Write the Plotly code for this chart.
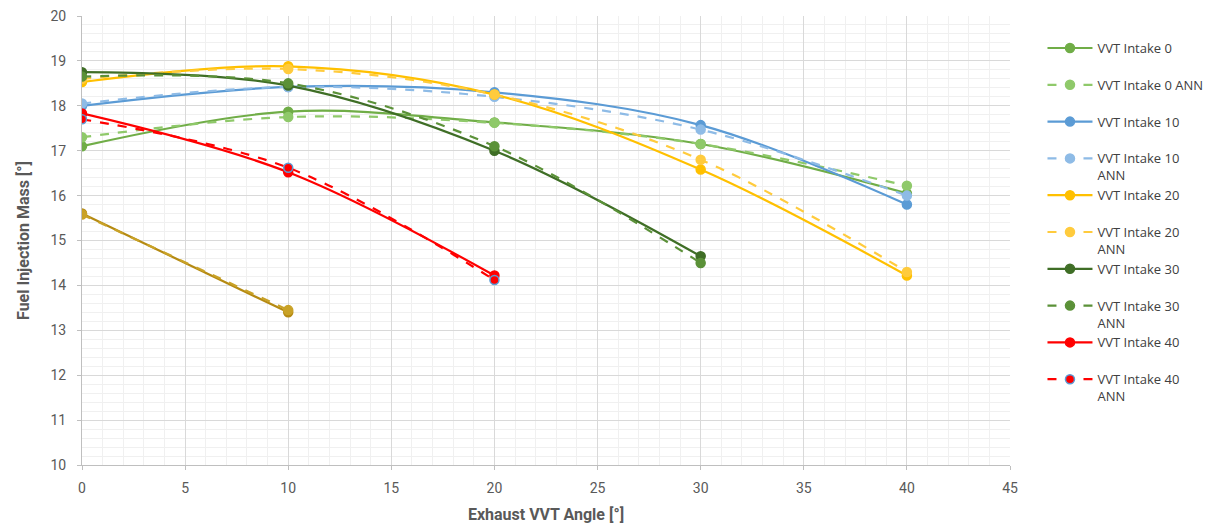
import plotly.graph_objects as go

x_vals = [0, 10, 20, 30, 40]

int0 = [17.10, 17.87, 17.63, 17.15, 16.05]
int0_ann = [17.30, 17.75, 17.62, 17.15, 16.22]
int10 = [18.00, 18.42, 18.30, 17.57, 15.80]
int10_ann = [18.05, 18.42, 18.20, 17.47, 16.00]
int20 = [18.53, 18.88, 18.25, 16.58, 14.22]
int20_ann = [18.60, 18.82, 18.25, 16.80, 14.30]
int30 = [18.75, 18.45, 17.00, 14.65]
int30_ann = [18.65, 18.50, 17.10, 14.50]
int40 = [17.83, 16.52, 14.22]
int40_ann = [17.70, 16.62, 14.12]
int50 = [15.60, 13.40]
int50_ann = [15.58, 13.45]

series = [
    ("VVT Intake 0<br> ", int0, "#70AD47", "solid", None, True),
    ("VVT Intake 0 ANN<br> ", int0_ann, "#8FC96A", "dash", None, True),
    ("VVT Intake 10<br> ", int10, "#5B9BD5", "solid", None, True),
    ("VVT Intake 10<br>ANN", int10_ann, "#8EBBE6", "dash", None, True),
    ("VVT Intake 20<br> ", int20, "#FFC000", "solid", None, True),
    ("VVT Intake 20<br>ANN", int20_ann, "#FFCB3D", "dash", None, True),
    ("VVT Intake 30<br> ", int30, "#3F6E26", "solid", None, True),
    ("VVT Intake 30<br>ANN", int30_ann, "#5B9138", "dash", None, True),
    ("VVT Intake 40<br> ", int40, "#FF0000", "solid", None, True),
    ("VVT Intake 40<br>ANN", int40_ann, "#FF0000", "dash", "#5B9BD5", True),
    ("VVT Intake 50", int50, "#B58A12", "solid", None, False),
    ("VVT Intake 50 ANN", int50_ann, "#C9A227", "dash", None, False),
]

fig = go.Figure()
for name, ys, color, dash, mline, show in series:
    fig.add_trace(go.Scatter(
        x=x_vals[:len(ys)], y=ys, name=name, mode="lines+markers",
        line=dict(color=color, width=2.2, dash=dash, shape="spline", smoothing=1.0),
        marker=dict(size=9, color=color,
                    line=dict(color=mline if mline else color, width=1.5)),
        showlegend=show,
    ))

font_fam = "Roboto, Arial"
fig.update_layout(
    width=1222, height=525,
    margin=dict(l=82, r=212, t=16, b=60, autoexpand=False),
    plot_bgcolor="white", paper_bgcolor="white",
    font=dict(family=font_fam, color="#595959", size=14),
    legend=dict(x=1.035, y=0.962, xanchor="left", yanchor="top",
                font=dict(size=13, color="#404040", family="Open Sans, Roboto"),
                valign="top", tracegroupgap=0, itemwidth=45,
                bgcolor="rgba(0,0,0,0)"),
    shapes=[dict(type="line", xref="paper", yref="paper", x0=1.2316, x1=1.2316,
                 y0=-0.14, y1=1.04, line=dict(color="#D9D9D9", width=1))],
)
fig.update_xaxes(
    range=[0, 45], dtick=5, tick0=0, automargin=False,
    showgrid=True, gridcolor="#D9D9D9", gridwidth=1,
    minor=dict(dtick=1, showgrid=True, gridcolor="#F0F0F0", gridwidth=1),
    showline=True, linecolor="#BFBFBF", linewidth=1,
    ticks="outside", ticklen=4, tickcolor="#BFBFBF",
    zeroline=False, ticklabelstandoff=6,
    title=dict(text="<b>Exhaust VVT Angle [°]</b>", font=dict(size=16, color="#595959"), standoff=14),
    tickfont=dict(size=14, color="#595959"),
)
fig.update_yaxes(
    range=[10, 20], dtick=1, tick0=10, automargin=False,
    showgrid=True, gridcolor="#D9D9D9", gridwidth=1,
    minor=dict(dtick=0.2, showgrid=True, gridcolor="#F0F0F0", gridwidth=1),
    showline=True, linecolor="#BFBFBF", linewidth=1,
    ticks="outside", ticklen=4, tickcolor="#BFBFBF",
    zeroline=False, ticklabelstandoff=8,
    title=dict(text="<b>Fuel Injection Mass [°]</b>", font=dict(size=16, color="#595959"), standoff=16),
    tickfont=dict(size=14, color="#595959"),
)

fig.write_html("out.html")
